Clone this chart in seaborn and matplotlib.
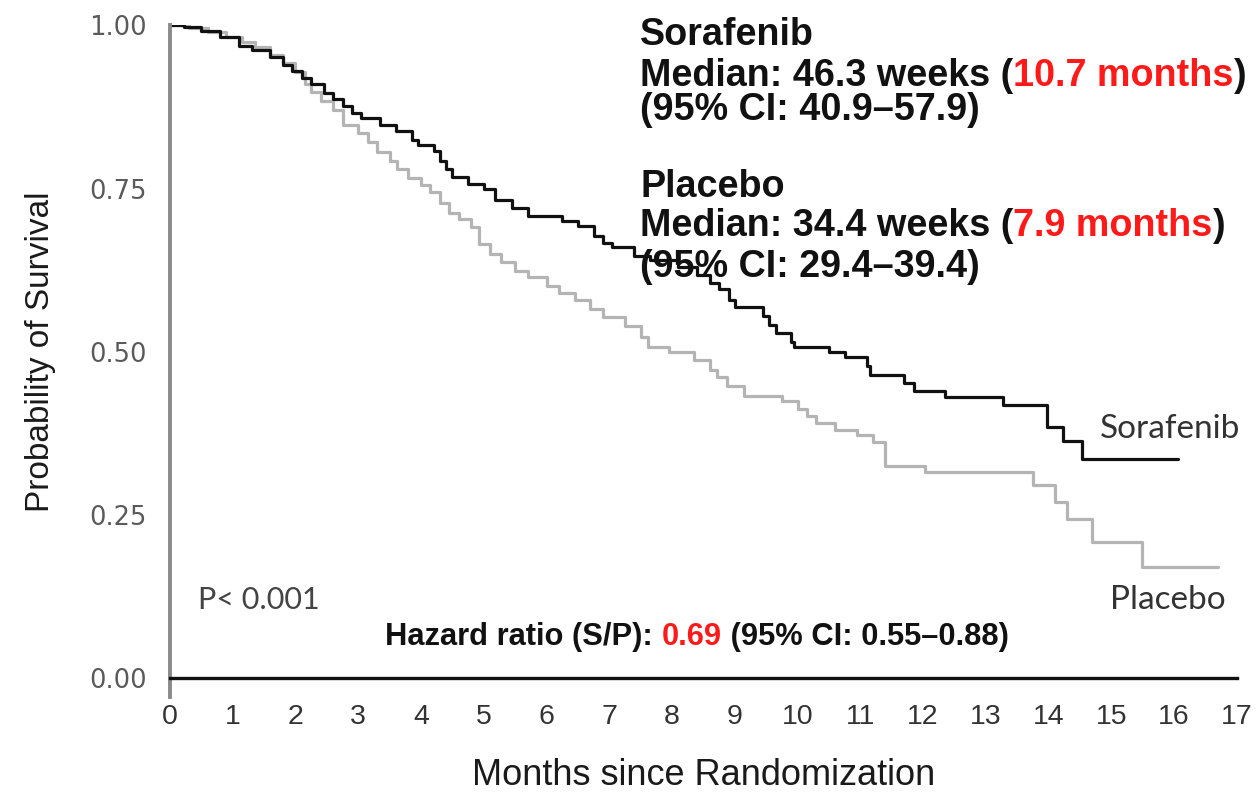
import matplotlib
matplotlib.use("Agg")
import matplotlib.pyplot as plt
import seaborn as sns
import pandas as pd

# Kaplan-Meier step points: (time of step in months, survival after the step)
sorafenib_months = [0.0, 0.22, 0.5, 0.8, 1.1, 1.3, 1.6, 1.8, 1.95, 2.1, 2.25, 2.45,
                    2.6, 2.75, 2.9, 3.05, 3.35, 3.6, 3.85, 3.95, 4.2, 4.3, 4.4, 4.5,
                    4.75, 5.0, 5.18, 5.45, 5.7, 6.25, 6.5, 6.75, 6.9, 7.05, 7.4,
                    7.65, 8.1, 8.4, 8.6, 8.75, 8.9, 9.0, 9.45, 9.55, 9.65, 9.9,
                    9.95, 10.5, 10.75, 11.1, 11.15, 11.7, 11.85, 12.35, 13.27,
                    13.97, 14.23, 14.53, 16.06]
sorafenib_surv = [1.0, 0.997, 0.992, 0.983, 0.968, 0.962, 0.952, 0.94, 0.93, 0.92,
                  0.91, 0.897, 0.887, 0.876, 0.866, 0.858, 0.847, 0.838, 0.825,
                  0.817, 0.807, 0.793, 0.78, 0.768, 0.757, 0.749, 0.732, 0.72,
                  0.708, 0.7, 0.693, 0.678, 0.667, 0.66, 0.647, 0.64, 0.63, 0.617,
                  0.605, 0.596, 0.58, 0.568, 0.555, 0.541, 0.528, 0.515, 0.507,
                  0.5, 0.492, 0.478, 0.464, 0.452, 0.44, 0.43, 0.419, 0.385,
                  0.363, 0.335, 0.335]

placebo_months = [0.0, 0.3, 0.6, 0.9, 1.15, 1.35, 1.6, 1.8, 2.0, 2.15, 2.25, 2.4,
                  2.6, 2.75, 3.0, 3.15, 3.3, 3.5, 3.62, 3.8, 4.0, 4.15, 4.3, 4.45,
                  4.6, 4.8, 4.92, 5.1, 5.28, 5.5, 5.7, 6.0, 6.2, 6.45, 6.7, 6.9,
                  7.25, 7.5, 7.62, 7.95, 8.35, 8.6, 8.72, 8.87, 9.15, 9.75, 10.0,
                  10.15, 10.3, 10.6, 10.95, 11.2, 11.4, 12.03, 13.75, 14.1, 14.3,
                  14.69, 15.49, 16.7]
placebo_surv = [1.0, 0.996, 0.99, 0.982, 0.975, 0.967, 0.954, 0.942, 0.928, 0.91,
                0.898, 0.884, 0.871, 0.848, 0.835, 0.822, 0.806, 0.792, 0.78,
                0.766, 0.755, 0.744, 0.728, 0.712, 0.703, 0.691, 0.665, 0.65,
                0.637, 0.624, 0.614, 0.601, 0.59, 0.579, 0.566, 0.553, 0.54,
                0.522, 0.508, 0.499, 0.487, 0.472, 0.461, 0.447, 0.432, 0.425,
                0.412, 0.402, 0.391, 0.38, 0.372, 0.362, 0.325, 0.315, 0.296,
                0.27, 0.243, 0.209, 0.17, 0.17]

x_ticks = list(range(0, 18))
y_ticks = [0.00, 0.25, 0.50, 0.75, 1.00]
y_tick_labels = ["0.00", "0.25", "0.50", "0.75", "1.00"]

df = pd.concat([
    pd.DataFrame({"months": sorafenib_months, "surv": sorafenib_surv, "arm": "Sorafenib"}),
    pd.DataFrame({"months": placebo_months, "surv": placebo_surv, "arm": "Placebo"}),
])

sns.set_style("white")
plt.rcParams["font.family"] = ["Liberation Sans", "DejaVu Sans"]

fig = plt.figure(figsize=(12.57, 7.94), dpi=100)
ax = fig.add_axes([0.1352, 0.146, 0.8488, 0.822])

sns.lineplot(data=df, x="months", y="surv", hue="arm",
             palette={"Sorafenib": "#111111", "Placebo": "#b4b4b4"},
             hue_order=["Placebo", "Sorafenib"],
             estimator=None, sort=False, drawstyle="steps-post",
             linewidth=2.3, legend=False, ax=ax)

ax.set_xlim(0, 17)
ax.set_ylim(0, 1.0)
ax.set_xticks(x_ticks)
ax.set_xticklabels([str(t) for t in x_ticks], family="Liberation Sans",
                   fontsize=20.5, color="#333333")
ax.set_yticks(y_ticks)
ax.set_yticklabels(y_tick_labels, family="DejaVu Sans", fontsize=18.5, color="#5a5a5a")

for side in ["top", "right"]:
    ax.spines[side].set_visible(False)
ax.spines["left"].set_color("#8a8a8a")
ax.spines["left"].set_linewidth(2.8)
ax.spines["left"].set_bounds(-0.029, 1.0)
ax.spines["bottom"].set_color("#111111")
ax.spines["bottom"].set_linewidth(2.4)
ax.tick_params(axis="x", direction="out", length=14, width=1.6, color="#333333", pad=5)
ax.tick_params(axis="y", direction="out", length=12.5, width=1.6, color="#444444", pad=4)

ax.set_xlabel("Months since Randomization", family="Liberation Sans",
              fontsize=26, color="#1a1a1a", labelpad=20)
ax.set_ylabel("Probability of Survival", family="Liberation Sans",
              fontsize=24, color="#1a1a1a", labelpad=24)


def rich_line(x, y, pieces, size, weight="bold", family="Liberation Sans"):
    """Draw consecutive text pieces of different colours on one baseline."""
    prev = ax.text(x, y, pieces[0][0], color=pieces[0][1], fontsize=size,
                   fontweight=weight, family=family, ha="left", va="center")
    for txt, col in pieces[1:]:
        prev = ax.annotate(txt, xy=(1, 0), xycoords=prev, color=col, fontsize=size,
                           fontweight=weight, family=family, ha="left", va="bottom")
    return prev


blk = "#111111"
red = "#ff1a1a"
tx = 7.49
fs = 27.2
rich_line(tx, 0.985, [("Sorafenib", blk)], fs)
rich_line(tx, 0.923, [("Median: 46.3 weeks (", blk), ("10.7 months", red), (")", blk)], fs)
rich_line(tx, 0.870, [("(95% CI: 40.9\u201357.9)", blk)], fs)
rich_line(tx, 0.752, [("Placebo", blk)], fs)
rich_line(tx, 0.692, [("Median: 34.4 weeks (", blk), ("7.9 months", red), (")", blk)], fs)
rich_line(tx, 0.630, [("(95% CI: 29.4\u201339.4)", blk)], fs)

rich_line(3.43, 0.063, [("Hazard ratio (S/P): ", blk), ("0.69", red),
                        (" (95% CI: 0.55\u20130.88)", blk)], 22.2)

ax.text(0.45, 0.12, "P< 0.001", fontsize=22, color="#444444", family="Lato",
        ha="left", va="center")
ax.text(14.82, 0.381, "Sorafenib", fontsize=24, color="#333333", family="Lato",
        ha="left", va="center")
ax.text(14.98, 0.12, "Placebo", fontsize=24, color="#333333", family="Lato",
        ha="left", va="center")

fig.savefig("out.png", dpi=100, facecolor="white")
